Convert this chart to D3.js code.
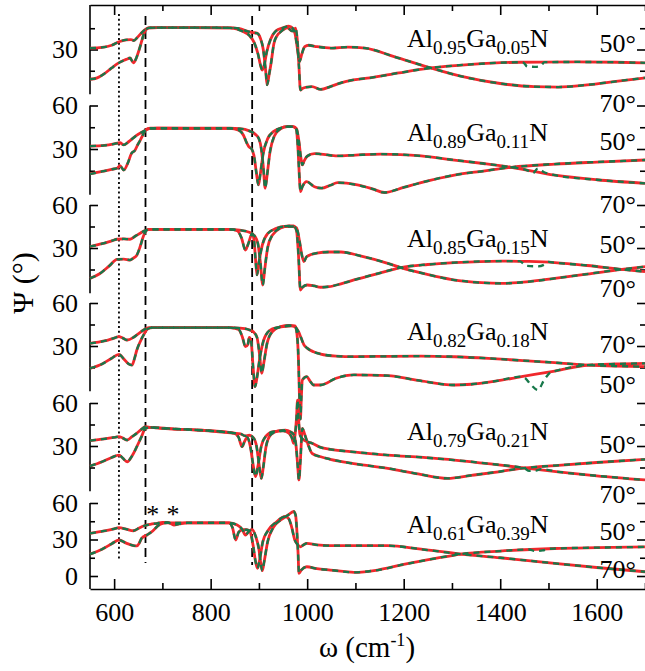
<!DOCTYPE html>
<html>
<head>
<meta charset="utf-8">
<script src="https://cdn.jsdelivr.net/npm/d3@7"></script>
<style>
  html, body { margin: 0; padding: 0; background: #fff; }
  svg { display: block; }
  text { font-family: "Liberation Serif", "Times New Roman", serif; fill: #000; }
</style>
</head>
<body>
<svg id="chart" width="645" height="671"></svg>
<script>
// ---------------- data ----------------
const omegaDomain = [550, 1700];
const xMajorTicks = [600, 800, 1000, 1200, 1400, 1600];
const xMinorTicks = [700, 900, 1100, 1300, 1500, 1700];
const psiMajorTicks = [60, 30];
const psiMinorTicks = [45, 15];

const alFractions = ["0.95", "0.89", "0.85", "0.82", "0.79", "0.61"];
const gaFractions = ["0.05", "0.11", "0.15", "0.18", "0.21", "0.39"];
const angleTags = [["50°", "70°"], ["50°", "70°"], ["50°", "70°"], ["70°", "50°"], ["50°", "70°"], ["50°", "70°"]];

// reference frequencies (cm-1)
const dottedOmega = [610];
const dashedOmega = [665, 886];
const asteriskOmega = [680, 722];

// Psi (deg) vs omega (cm-1); branch A starts higher at 550 cm-1, branch B lower
const al95A = [[550,31],[575,31.5],[595,33],[610,35.5],[625,36.8],[635,37],[641,36.3],[648,38.5],[656,41.5],[664,44],[672,45.2],[690,45.5],[760,45.5],[840,45.2],[855,44.3],[868,42.5],[880,40],[890,35],[898,27],[904,18],[907,15.5],[911,19],[916,28],[924,37],[935,43],[950,45.3],[962,46.5],[970,45],[975,41],[980,30],[984,21.5],[989,27],[995,32],[1003,33],[1020,32],[1050,31],[1084,31.7],[1120,31],[1180,25],[1256,17],[1320,11],[1400,6],[1470,3.8],[1520,3.5],[1580,5],[1640,7.5],[1700,10]];
const al95B = [[550,9],[565,10],[580,13],[595,17],[607,20],[615,21.5],[625,23],[633,24],[640,20.5],[646,24],[652,30],[658,37],[664,43],[672,45.3],[690,45.5],[760,45.5],[840,45.3],[860,44.8],[875,43],[886,42],[896,41.5],[903,38],[909,30],[914,15],[917,5],[921,12],[925,20],[931,34],[938,40],[945,42.5],[959,45.3],[969,43],[976,45],[980,35],[983,18],[986,1.4],[990,2.5],[1000,3.5],[1010,3.8],[1028,1.8],[1048,3.8],[1070,6.5],[1096,8.5],[1130,10],[1190,13.5],[1256,17],[1340,19.5],[1443,21],[1560,21.2],[1640,21],[1700,20.6]];
const al95Glitch = [[1448,20.8],[1456,18],[1472,17.8],[1484,18.5],[1492,21.1]];

const al89A = [[550,32],[580,32.5],[600,33.5],[612,34.3],[620,32.8],[630,35],[645,39],[660,42],[672,44],[690,44.3],[840,44.2],[858,43],[868,39.5],[875,34],[879,31.6],[885,30],[890,25],[895,13],[899,5.2],[903,13],[909,27],[918,37],[930,42],[945,44.5],[960,45.4],[972,45.4],[978,44],[983,35],[987,24],[990,19],[994,22],[1000,25],[1015,26.8],[1028,26.5],[1063,25.2],[1100,25.8],[1153,26.5],[1236,25.2],[1305,22.4],[1365,20],[1423,17.4],[1513,12],[1600,8.8],[1700,6.3]];
const al89B = [[550,12.8],[575,14.5],[595,16],[606,16.7],[612,18.5],[620,15.5],[628,20],[636,27],[643,29],[649,33],[654,36],[660,40],[665,43],[675,44.3],[840,44.3],[860,44],[880,42.5],[893,40],[900,37],[905,30],[909,18],[913,2.9],[917,12],[923,28],[932,39],[945,44],[958,45.4],[970,45.4],[977,44],[981,30],[984,10],[986,0.6],[990,4],[999,7.5],[1015,4],[1030,3],[1048,5],[1063,6.8],[1104,5.2],[1135,2.5],[1160,0],[1200,3.5],[1236,6.8],[1305,12],[1365,14.8],[1423,17.4],[1513,19.6],[1600,21],[1700,22.4]];
const al89Glitch = [[1456,15.3],[1468,13.4],[1478,16.6],[1490,14.2]];

const al85A = [[550,31],[575,33],[595,35],[606,36.1],[620,36.3],[633,36.1],[645,38.5],[655,40.5],[663,42],[675,43],[840,43],[855,42],[864,37],[872,28.6],[878,33],[886,40],[890,35],[893,22],[896,11.2],[900,20],[907,32],[918,40],[935,43.5],[955,45],[970,45],[978,44],[984,35],[989,25],[993,20.5],[999,24],[1020,26.5],[1045,27.2],[1070,27.2],[1110,24.5],[1167,19.3],[1194,16.3],[1250,11.5],[1300,8],[1361,5.8],[1402,5.3],[1460,6.5],[1513,8.8],[1580,11.8],[1652,15.1],[1700,17]];
const al85B = [[550,8.8],[570,12],[590,17.5],[606,22.1],[620,22.3],[633,21.6],[640,23],[647,25],[654,31],[661,38.6],[671,43],[840,43],[860,42.5],[880,41],[892,38],[898,33],[903,20],[908,4.2],[912,15],[918,30],[928,39],[945,44],[962,45.5],[972,45.5],[978,42],[982,25],[986,0.7],[990,2.5],[1000,4.2],[1015,3.5],[1028,2.6],[1045,3],[1070,5],[1097,7.7],[1150,12.5],[1194,16.3],[1250,18.5],[1305,19.8],[1402,20.9],[1460,20.6],[1513,19.8],[1580,17.8],[1652,15.1],[1700,13.5]];
const al85Glitch = [[1440,20.8],[1455,17.5],[1478,17.2],[1492,18.5],[1500,20.3]];

const al82A = [[550,31.9],[580,33.5],[600,35.5],[610,36.5],[618,35.5],[627,34.2],[640,36],[650,38.5],[661,41.2],[672,42.8],[840,42.8],[858,41.5],[866,36],[872,29.5],[877,31],[880,36],[884,33],[888,15],[892,1.6],[896,8],[902,22],[912,36],[928,42],[950,43.5],[968,44],[976,43],[982,40],[987,36],[993,31],[1000,28.5],[1013,26],[1028,24.4],[1060,23],[1097,22.6],[1170,22.8],[1236,23],[1305,22.5],[1375,21.4],[1440,20],[1513,18.4],[1582,16.7],[1640,16],[1700,15.6]];
const al82B = [[550,14.4],[575,17.5],[595,21.5],[610,24.2],[620,21],[630,17.5],[637,16.7],[642,21],[647,27.2],[654,33],[661,37.7],[670,42],[680,42.8],[840,42.8],[860,42.5],[878,41.5],[888,40],[896,36],[901,25],[906,11],[910,18],[917,32],[928,40],[945,43.5],[962,44.3],[975,44],[979,38],[982,20],[984,-5],[986,-21],[988,-5],[990,6.3],[999,8.6],[1006,5.5],[1013,2.8],[1028,2.8],[1060,7.5],[1097,9.8],[1167,9.3],[1230,6],[1305,2.8],[1340,3.3],[1390,5.5],[1444,8.6],[1513,12.5],[1582,16.7],[1640,17.5],[1700,17.9]];
const al82Glitch = [[1452,7.5],[1464,2.8],[1478,-0.7],[1491,6.3],[1505,11.8]];

const al79A = [[550,33.7],[580,35],[600,36],[610,36.5],[618,35.5],[627,34.2],[637,36.5],[647,38.9],[656,41.5],[665,43.5],[675,43],[720,42],[780,41],[848,39],[858,36],[865,29.5],[870,33],[876,36],[882,30],[888,17],[893,8.6],[898,16],[905,30],[915,37],[930,40],[950,40.5],[962,39],[968,36],[972,31.9],[975,38],[978,50],[980,62],[982,50],[985,38],[990,35],[1000,33],[1010,31.9],[1028,29],[1048,27.7],[1100,25.8],[1167,23.7],[1240,22],[1305,20.2],[1380,17.5],[1444,14.9],[1520,12],[1600,9.2],[1700,6.3]];
const al79B = [[550,16],[575,19],[595,22],[610,23.7],[618,21.5],[627,19],[637,23],[647,29.5],[656,36],[665,42.3],[675,43],[720,42],[780,41],[848,39],[862,38.5],[872,37],[880,37.5],[888,36],[895,30],[900,18],[905,7.4],[909,15],[915,30],[925,38],[940,40.5],[955,41],[965,40],[972,38],[977,30],[980,18],[983,6.3],[986,20],[990,42.3],[995,38],[1003,30],[1010,24.9],[1028,22.5],[1048,20.7],[1100,17.5],[1167,14.4],[1230,10.5],[1291,7.4],[1340,9.5],[1400,12.2],[1444,14.4],[1520,16.5],[1600,18.5],[1700,20.7]];
const al79Glitch = [[1450,14.5],[1460,12.6],[1474,12.8],[1484,13.9]];

const al61A = [[550,35.1],[580,37],[600,38.8],[610,39.7],[625,38.5],[640,37.2],[652,39.5],[661,41.1],[675,42.5],[689,43.3],[700,44],[710,44.1],[718,43],[724,41.9],[735,42.8],[751,43.6],[838,43.6],[845,40],[852,29.6],[858,36],[866,38],[875,38],[882,36],[888,25],[893,12],[897,6.3],[901,12],[908,28],[920,38],[935,44],[955,48.9],[962,47],[968,40],[974,30],[980,26],[986,24],[992,25.5],[999,26.8],[1020,25.5],[1048,24.9],[1100,25],[1167,24.9],[1236,22],[1319,18],[1400,15],[1513,10.4],[1600,7],[1700,3.5]];
const al61B = [[550,18],[575,22],[595,26.5],[610,29.6],[625,27],[640,25],[647,24.7],[652,27],[657,31],[668,33.7],[680,37],[690,41],[696,42.7],[710,43.6],[838,43.6],[855,42],[866,38],[872,33.7],[880,37],[886,38],[893,33],[900,22],[904,10],[907,4.4],[911,12],[918,28],[930,40],[945,46],[960,50],[972,53],[976,50],[979,35],[981,20],[983,2.2],[988,5],[999,7.6],[1020,6],[1048,4.9],[1097,3],[1146,4.9],[1200,9.5],[1260,14],[1319,18],[1400,20.5],[1513,22.6],[1600,23.3],[1700,23.9]];
const al61Glitch = [[1460,21.8],[1472,20.5],[1488,21],[1500,22.3]];

// ---------------- layout ----------------
const plotLeft = 90, plotRight = 645, frameTop = 5, frameBottom = 589;
// pixel rows of Psi = 60 and Psi = 0 for each stacked panel
const bands = [[7, 92], [105.5, 192.5], [205, 291], [303, 389], [403, 489], [503, 576]];
const compBaselines = [47, 141, 247, 340, 440, 533];
const tagBaselines = [[52, 112], [150, 213], [253, 297], [353, 393], [453, 503], [540, 578]];

const RED = "#f0282c";
const GREEN = "#17784a";
const SERIF = "'Liberation Serif', 'Times New Roman', serif";

const panels = [
  { A: al95A, B: al95B, glitch: al95Glitch, glitchOn: "B" },
  { A: al89A, B: al89B, glitch: al89Glitch, glitchOn: "A" },
  { A: al85A, B: al85B, glitch: al85Glitch, glitchOn: "B" },
  { A: al82A, B: al82B, glitch: al82Glitch, glitchOn: "B" },
  { A: al79A, B: al79B, glitch: al79Glitch, glitchOn: "A" },
  { A: al61A, B: al61B, glitch: al61Glitch, glitchOn: "B" }
];

const svg = d3.select("#chart");
const x = d3.scaleLinear().domain(omegaDomain).range([plotLeft, plotRight]);

// measured branch with its short spurious excursion spliced in
function withGlitch(series, glitch) {
  const lo = glitch[0][0], hi = glitch[glitch.length - 1][0];
  return series.filter(d => d[0] < lo || d[0] > hi).concat(glitch).sort((a, b) => a[0] - b[0]);
}

// ---- frame: top and bottom axes ----
const gTop = svg.append("g").attr("transform", `translate(0,${frameTop})`);
gTop.call(d3.axisTop(x).tickValues(xMajorTicks).tickSizeInner(-10).tickSizeOuter(0).tickFormat(""));
gTop.append("g").call(d3.axisTop(x).tickValues(xMinorTicks).tickSizeInner(-6).tickSizeOuter(0).tickFormat(""))
  .select(".domain").remove();

const gBot = svg.append("g").attr("transform", `translate(0,${frameBottom})`);
gBot.call(d3.axisBottom(x).tickValues(xMajorTicks).tickSizeInner(-10).tickSizeOuter(0).tickPadding(14).tickFormat(d3.format("d")));
gBot.append("g").call(d3.axisBottom(x).tickValues(xMinorTicks).tickSizeInner(-6).tickSizeOuter(0).tickFormat(""))
  .select(".domain").remove();

// ---- per-panel left / right axes ----
panels.forEach((p, i) => {
  const y = d3.scaleLinear().domain([0, 60]).range([bands[i][1], bands[i][0]]);
  p.y = y;
  const major = i === 0 ? [30] : (i === panels.length - 1 ? [60, 30, 0] : psiMajorTicks);
  const yTop = i === 0 ? frameTop : y(60);
  const yBot = i === panels.length - 1 ? frameBottom : y(-1.5);

  const gl = svg.append("g").attr("transform", `translate(${plotLeft},0)`);
  gl.call(d3.axisLeft(y).tickValues(major).tickSizeInner(-8).tickSizeOuter(0).tickPadding(12).tickFormat(d3.format("d")));
  gl.select(".domain").remove();
  gl.append("g").call(d3.axisLeft(y).tickValues(psiMinorTicks).tickSizeInner(-5).tickSizeOuter(0).tickFormat(""))
    .select(".domain").remove();
  gl.append("line").attr("x1", 0).attr("x2", 0).attr("y1", yTop).attr("y2", yBot)
    .attr("stroke", "#000").attr("stroke-width", 1.6);

  const gr = svg.append("g").attr("transform", `translate(${plotRight},0)`);
  gr.call(d3.axisRight(y).tickValues(major).tickSizeInner(-8).tickSizeOuter(0).tickFormat(""));
  gr.select(".domain").remove();
  gr.append("g").call(d3.axisRight(y).tickValues(psiMinorTicks).tickSizeInner(-5).tickSizeOuter(0).tickFormat(""))
    .select(".domain").remove();
});

svg.selectAll(".tick line").attr("stroke", "#000").attr("stroke-width", 1.6);
svg.selectAll(".domain").attr("stroke", "#000").attr("stroke-width", 1.6);
svg.selectAll("g").attr("font-family", null);
svg.selectAll(".tick text").attr("font-size", 26).style("font-family", SERIF).attr("fill", "#000");

// ---- reference lines ----
svg.selectAll("line.dotted").data(dottedOmega).join("line").attr("class", "dotted")
  .attr("x1", d => x(d)).attr("x2", d => x(d)).attr("y1", 14).attr("y2", 560)
  .attr("stroke", "#000").attr("stroke-width", 1.8).attr("stroke-dasharray", "2,2.8");
svg.selectAll("line.dashed").data(dashedOmega).join("line").attr("class", "dashed")
  .attr("x1", d => x(d)).attr("x2", d => x(d)).attr("y1", 16).attr("y2", (d, i) => i === 0 ? 563 : 565)
  .attr("stroke", "#000").attr("stroke-width", 1.8).attr("stroke-dasharray", "9,5");

// ---- spectra: model (red, solid) under measurement (green, dashed) ----
const gCurves = svg.append("g");
panels.forEach((p, i) => {
  const line = d3.line().x(d => x(d[0])).y(d => p.y(d[1])).curve(d3.curveMonotoneX);
  ["A", "B"].forEach(k => {
    gCurves.append("path").attr("d", line(p[k]))
      .attr("fill", "none").attr("stroke", RED).attr("stroke-width", 2.8)
      .attr("stroke-linejoin", "round");
  });
  ["A", "B"].forEach(k => {
    const meas = k === p.glitchOn ? withGlitch(p[k], p.glitch) : p[k];
    gCurves.append("path").attr("d", line(meas))
      .attr("fill", "none").attr("stroke", GREEN).attr("stroke-width", 2.3)
      .attr("stroke-dasharray", "6,5");
  });
});

// ---- labels ----
panels.forEach((p, i) => {
  const t = svg.append("text").attr("x", 407).attr("y", compBaselines[i]).attr("font-size", 26);
  t.append("tspan").text("Al");
  t.append("tspan").attr("font-size", 19).attr("dy", 7).text(alFractions[i]);
  t.append("tspan").attr("dy", -7).text("Ga");
  t.append("tspan").attr("font-size", 19).attr("dy", 7).text(gaFractions[i]);
  t.append("tspan").attr("dy", -7).text("N");

  angleTags[i].forEach((tag, j) => {
    svg.append("text").attr("x", 636).attr("y", tagBaselines[i][j])
      .attr("text-anchor", "end").attr("font-size", 26).text(tag);
  });
});

svg.selectAll("text.star").data(asteriskOmega).join("text").attr("class", "star")
  .attr("x", d => x(d)).attr("y", 523).attr("text-anchor", "middle").attr("font-size", 26).text("*");

// axis titles
const xt = svg.append("text").attr("x", 367).attr("y", 657).attr("text-anchor", "middle").attr("font-size", 29);
xt.append("tspan").text("ω (cm");
xt.append("tspan").attr("font-size", 18).attr("dy", -11).text("-1");
xt.append("tspan").attr("dy", 11).text(")");

svg.append("text").attr("transform", "translate(33,283) rotate(-90)")
  .attr("text-anchor", "middle").attr("font-size", 30).style("font-family", SERIF).text("Ψ (°)");
</script>
</body>
</html>
